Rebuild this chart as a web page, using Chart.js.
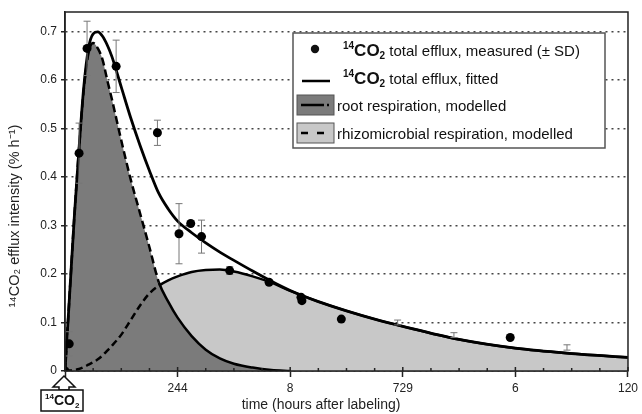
<!DOCTYPE html>
<html>
<head>
<meta charset="utf-8">
<script src="https://cdn.jsdelivr.net/npm/chart.js@4"></script>
<style>
  html, body { margin: 0; padding: 0; background: #fff; }
  #wrap { width: 642px; height: 414px; }
</style>
</head>
<body>
<div id="wrap"><canvas id="chart"></canvas></div>
<script>
// Axis labels as printed (one every 24 h, the 0 is replaced by the 14CO2 box)
const xTickLabels = ["", "244", "8", "729", "6", "120"];
const xTitle = "time (hours after labeling)";
const yTitle = "\u00b9\u2074CO\u2082 efflux intensity (% h\u207b\u00b9)";

// Measured 14CO2 total efflux (hours, % h-1, SD)
const measuredTime = [0, 0.9, 3.0, 4.7, 10.9, 19.7, 24.3, 26.8, 29.1, 35.1, 43.5, 50.3, 50.5, 58.9, 94.9];
const measuredValue = [0, 0.056, 0.449, 0.665, 0.628, 0.491, 0.283, 0.304, 0.277, 0.207, 0.183, 0.152, 0.145, 0.107, 0.069];
const measuredSD = [0, 0.025, 0.062, 0.056, 0.054, 0.026, 0.062, 0, 0.034, 0.008, 0.005, 0, 0, 0, 0];

// Error bars visible without a dot
const sdOnlyTime = [70.9, 82.9, 107];
const sdOnlyValue = [0.1, 0.074, 0.0485];
const sdOnlySD = [0.005, 0.005, 0.0055];

// Fitted / modelled curves
const curveTime = [0, 1, 2, 3, 4, 5, 6, 7, 8, 9, 10, 12, 14, 16, 18, 20, 22, 24, 27, 30, 33, 36, 40, 44, 48, 54, 60, 66, 72, 84, 96, 108, 120];
const totalFitted = [0, 0.16, 0.32, 0.46, 0.585, 0.665, 0.695, 0.699, 0.69, 0.672, 0.648, 0.585, 0.522, 0.465, 0.413, 0.366, 0.334, 0.309, 0.285, 0.264, 0.245, 0.228, 0.206, 0.185, 0.166, 0.143, 0.124, 0.107, 0.092, 0.065, 0.047, 0.036, 0.028];
const rootModelled = [0, 0.16, 0.32, 0.46, 0.58, 0.655, 0.676, 0.665, 0.642, 0.6, 0.56, 0.475, 0.395, 0.325, 0.255, 0.183, 0.143, 0.11, 0.072, 0.044, 0.026, 0.015, 0.007, 0.002, 0, null, null, null, null, null, null, null, null];
const rhizoModelled = [0, 0.001, 0.002, 0.004, 0.008, 0.013, 0.018, 0.024, 0.032, 0.042, 0.052, 0.075, 0.105, 0.135, 0.16, 0.176, 0.187, 0.195, 0.204, 0.208, 0.209, 0.205, 0.195, 0.182, 0.165, 0.143, 0.124, 0.107, 0.092, 0.065, 0.047, 0.036, 0.028];
const crossingTime = 20; // modelled curves are dashed up to here

const darkGrey = "#7b7b7b";
const lightGrey = "#c8c8c8";
const fontFamily = "'Liberation Sans', Arial, sans-serif";

function toPoints(xs, ys) {
  return xs.map((x, i) => ({ x: x, y: ys[i] }));
}

function drawCO2(ctx, x, y, big, small) {
  // 14CO2 with superscript and subscript, returns end x
  ctx.font = "bold " + small + "px " + fontFamily;
  ctx.fillText("14", x, y - big * 0.42);
  x += ctx.measureText("14").width;
  ctx.font = "bold " + big + "px " + fontFamily;
  ctx.fillText("CO", x, y);
  x += ctx.measureText("CO").width;
  ctx.font = "bold " + small + "px " + fontFamily;
  ctx.fillText("2", x, y + big * 0.2);
  return x + ctx.measureText("2").width;
}

// Error bars, drawn just before the dots
const errorBars = {
  id: "errorBars",
  beforeDatasetDraw(chart, args) {
    if (args.index !== 0) return;
    const { ctx, scales } = chart;
    const times = measuredTime.concat(sdOnlyTime);
    const values = measuredValue.concat(sdOnlyValue);
    const sds = measuredSD.concat(sdOnlySD);
    ctx.save();
    ctx.strokeStyle = "#777";
    ctx.lineWidth = 1;
    times.forEach((t, i) => {
      if (!sds[i]) return;
      const px = scales.x.getPixelForValue(t);
      const top = scales.y.getPixelForValue(values[i] + sds[i]);
      const bot = scales.y.getPixelForValue(values[i] - sds[i]);
      ctx.beginPath();
      ctx.moveTo(px, top); ctx.lineTo(px, bot);
      ctx.moveTo(px - 3.5, top); ctx.lineTo(px + 3.5, top);
      ctx.moveTo(px - 3.5, bot); ctx.lineTo(px + 3.5, bot);
      ctx.stroke();
    });
    ctx.restore();
  },
};

// Box round the plot and the small ticks on the time axis
const frameAndTicks = {
  id: "frameAndTicks",
  afterDraw(chart) {
    const { ctx, chartArea: a, scales } = chart;
    ctx.save();
    ctx.strokeStyle = "#222";
    ctx.lineWidth = 1.5;
    ctx.strokeRect(a.left, a.top, a.right - a.left, a.bottom - a.top);
    for (let h = 0; h <= 120; h += 6) {
      const px = scales.x.getPixelForValue(h);
      const len = h % 24 === 0 ? 4 : 3;
      ctx.beginPath();
      ctx.moveTo(px, a.bottom);
      ctx.lineTo(px, a.bottom - len);
      ctx.stroke();
    }
    ctx.restore();
  },
};

// Axis titles, centred on the whole figure as in the original
const axisTitles = {
  id: "axisTitles",
  afterDraw(chart) {
    const ctx = chart.ctx;
    ctx.save();
    ctx.fillStyle = "#222";
    ctx.textAlign = "center";
    ctx.textBaseline = "middle";
    ctx.font = "14px " + fontFamily;
    ctx.fillText(xTitle, chart.width / 2, chart.height - 8.5);
    ctx.translate(15, chart.height / 2 + 9);
    ctx.rotate(-Math.PI / 2);
    ctx.font = "14.5px " + fontFamily;
    ctx.fillText(yTitle, 0, 0);
    ctx.restore();
  },
};

// Legend box inside the plot
const legendBox = {
  id: "legendBox",
  afterDraw(chart) {
    const ctx = chart.ctx;
    const a = chart.chartArea;
    const bx = a.left + 228, by = a.top + 21, bw = 312, bh = 115;
    const rows = [by + 23, by + 51, by + 78, by + 106];
    ctx.save();
    ctx.fillStyle = "#fff";
    ctx.fillRect(bx, by, bw, bh);
    ctx.strokeStyle = "#555";
    ctx.lineWidth = 1.5;
    ctx.strokeRect(bx, by, bw, bh);

    ctx.fillStyle = "#111";
    ctx.textBaseline = "alphabetic";

    // row 1: measured
    ctx.beginPath();
    ctx.arc(bx + 22, rows[0] - 7, 4.2, 0, Math.PI * 2);
    ctx.fill();
    let x = drawCO2(ctx, bx + 50, rows[0], 17, 10);
    ctx.font = "15px " + fontFamily;
    ctx.fillText(" total efflux, measured (\u00b1 SD)", x, rows[0]);

    // row 2: fitted
    ctx.strokeStyle = "#000";
    ctx.lineWidth = 2.5;
    ctx.beginPath();
    ctx.moveTo(bx + 9, rows[1] - 3);
    ctx.lineTo(bx + 37, rows[1] - 3);
    ctx.stroke();
    x = drawCO2(ctx, bx + 50, rows[1], 17, 10);
    ctx.font = "15px " + fontFamily;
    ctx.fillText(" total efflux, fitted", x, rows[1]);

    // rows 3 and 4: modelled areas
    const swatches = [
      { fill: darkGrey, dash: [23, 3, 2, 100], text: "root respiration, modelled" },
      { fill: lightGrey, dash: [7, 9], text: "rhizomicrobial respiration, modelled" },
    ];
    swatches.forEach((s, i) => {
      const base = rows[2 + i];
      ctx.fillStyle = s.fill;
      ctx.fillRect(bx + 4, base - 16, 37, 20);
      ctx.strokeStyle = "#555";
      ctx.lineWidth = 1;
      ctx.setLineDash([]);
      ctx.strokeRect(bx + 4, base - 16, 37, 20);
      ctx.strokeStyle = "#000";
      ctx.lineWidth = 2.5;
      ctx.setLineDash(s.dash);
      ctx.beginPath();
      ctx.moveTo(bx + 8, base - 6);
      ctx.lineTo(bx + 38, base - 6);
      ctx.stroke();
      ctx.setLineDash([]);
      ctx.fillStyle = "#111";
      ctx.font = "15px " + fontFamily;
      ctx.fillText(s.text, bx + 44, base);
    });
    ctx.restore();
  },
};

// Arrow and 14CO2 box under the origin (labeling time)
const labelArrow = {
  id: "labelArrow",
  afterDraw(chart) {
    const { ctx, chartArea: a, scales } = chart;
    const px = scales.x.getPixelForValue(0);
    const top = a.bottom + 5;
    ctx.save();
    ctx.fillStyle = "#fff";
    ctx.strokeStyle = "#111";
    ctx.lineWidth = 1.5;
    ctx.beginPath();
    ctx.moveTo(px - 1, top);
    ctx.lineTo(px + 10, top + 11);
    ctx.lineTo(px + 4, top + 11);
    ctx.lineTo(px + 4, top + 14);
    ctx.lineTo(px - 6, top + 14);
    ctx.lineTo(px - 6, top + 11);
    ctx.lineTo(px - 12, top + 11);
    ctx.closePath();
    ctx.fill();
    ctx.stroke();
    ctx.fillRect(px - 24, top + 14, 42, 21);
    ctx.strokeRect(px - 24, top + 14, 42, 21);
    ctx.fillStyle = "#111";
    ctx.textBaseline = "alphabetic";
    drawCO2(ctx, px - 20, top + 29, 14, 8);
    ctx.restore();
  },
};

const tickFont = { family: fontFamily, size: 12 };
const dashedBefore = (dash) => (c) => (c.p1.parsed.x <= crossingTime ? dash : undefined);

new Chart(document.getElementById("chart"), {
  type: "line",
  data: {
    datasets: [
      {
        label: "14CO2 total efflux, measured (± SD)",
        data: toPoints(measuredTime, measuredValue),
        showLine: false,
        pointRadius: 4.5,
        pointBackgroundColor: "#000",
        pointBorderColor: "#000",
        pointBorderWidth: 0,
      },
      {
        label: "14CO2 total efflux, fitted",
        data: toPoints(curveTime, totalFitted),
        borderColor: "#000",
        borderWidth: 2.8,
        pointRadius: 0,
        fill: false,
        cubicInterpolationMode: "monotone",
      },
      {
        label: "root respiration, modelled",
        data: toPoints(curveTime, rootModelled),
        borderColor: "#000",
        borderWidth: 2.5,
        pointRadius: 0,
        fill: false,
        cubicInterpolationMode: "monotone",
        segment: { borderDash: dashedBefore([8, 4]) },
      },
      {
        label: "rhizomicrobial respiration, modelled",
        data: toPoints(curveTime, rhizoModelled),
        borderColor: "#000",
        borderWidth: 2.5,
        pointRadius: 0,
        fill: false,
        cubicInterpolationMode: "monotone",
        segment: { borderDash: dashedBefore([7, 4]) },
      },
      {
        // area under root respiration
        data: toPoints(curveTime, rootModelled),
        borderWidth: 0,
        backgroundColor: darkGrey,
        pointRadius: 0,
        fill: "origin",
        cubicInterpolationMode: "monotone",
      },
      {
        // area under rhizomicrobial respiration
        data: toPoints(curveTime, rhizoModelled),
        borderWidth: 0,
        backgroundColor: lightGrey,
        pointRadius: 0,
        fill: "origin",
        cubicInterpolationMode: "monotone",
      },
    ],
  },
  options: {
    responsive: true,
    maintainAspectRatio: false,
    animation: false,
    layout: { padding: { top: 12, right: 10, left: 0, bottom: 0 } },
    plugins: {
      legend: { display: false },
      tooltip: { enabled: false },
      filler: { drawTime: "beforeDatasetsDraw" },
    },
    scales: {
      x: {
        type: "linear",
        min: 0,
        max: 120,
        z: 1,
        ticks: {
          stepSize: 24,
          autoSkip: false,
          maxRotation: 0,
          padding: 4,
          color: "#222",
          font: tickFont,
          callback: (v) => xTickLabels[Math.round(v / 24)] ?? "",
        },
        grid: { drawOnChartArea: false, tickLength: 6, tickColor: "#222", tickWidth: 1.5 },
        border: { color: "#222", width: 1.5 },
        afterFit: (s) => { s.height = 43; },
      },
      y: {
        min: 0,
        max: 0.74,
        z: 1,
        ticks: {
          stepSize: 0.1,
          includeBounds: false,
          padding: 4,
          color: "#222",
          font: tickFont,
          callback: (v) => (v === 0 ? "0" : v.toFixed(1)),
        },
        grid: { color: "#444", lineWidth: 1.5, tickLength: 4, tickColor: "#222", tickBorderDash: [] },
        border: { color: "#222", width: 1.5, dash: [2, 4] },
        afterFit: (s) => { s.width = 65; },
      },
    },
  },
  plugins: [errorBars, frameAndTicks, axisTitles, legendBox, labelArrow],
});
</script>
</body>
</html>
